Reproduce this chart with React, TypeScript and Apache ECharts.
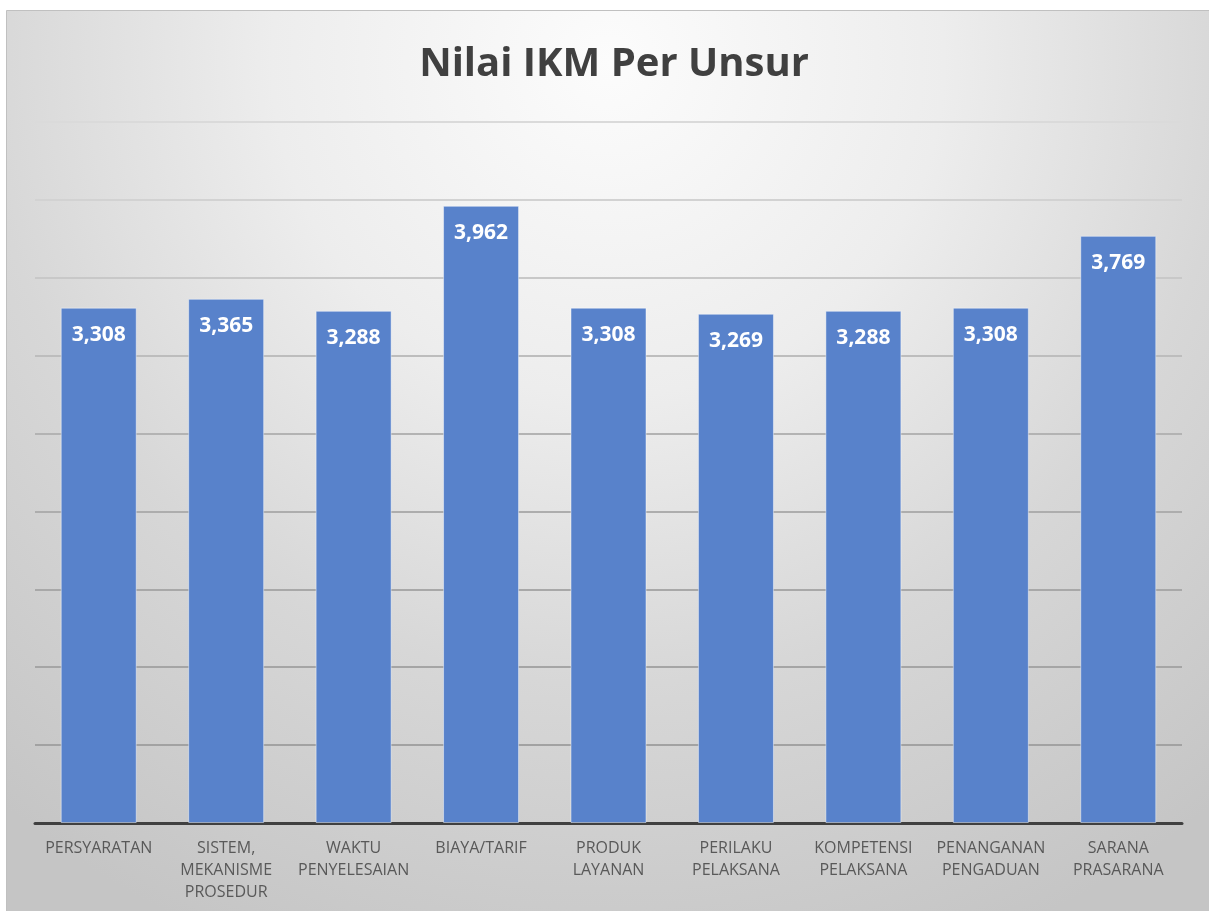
import React, { useEffect, useRef } from "react";
import * as echarts from "echarts";

const titleText = "Nilai IKM Per Unsur";
const categories = [
  "PERSYARATAN",
  "SISTEM,\nMEKANISME\nPROSEDUR",
  "WAKTU\nPENYELESAIAN",
  "BIAYA/TARIF",
  "PRODUK\nLAYANAN",
  "PERILAKU\nPELAKSANA",
  "KOMPETENSI\nPELAKSANA",
  "PENANGANAN\nPENGADUAN",
  "SARANA\nPRASARANA",
];
const values = [3.308, 3.365, 3.288, 3.962, 3.308, 3.269, 3.288, 3.308, 3.769];
const yMin = 0;
const yMax = 4.5;
const yInterval = 0.5;

export default function App() {
  const ref = useRef<HTMLDivElement>(null);
  useEffect(() => {
    if (!ref.current) return;
    const chart = echarts.init(ref.current, null, { renderer: "svg" });
    chart.setOption({
      animation: false,
      graphic: [
        {
          type: "rect",
          z: -10,
          silent: true,
          shape: { x: 6.5, y: 10.5, width: 1210, height: 910 },
          style: {
            fill: {
              type: "radial",
              x: 608,
              y: 60,
              r: 960,
              global: true,
              colorStops: [
                { offset: 0, color: "#fcfcfc" },
                { offset: 0.35, color: "#ededed" },
                { offset: 0.65, color: "#d7d7d7" },
                { offset: 1, color: "#c5c5c5" },
              ],
            },
            stroke: "#c0c0c0",
            lineWidth: 1,
          },
        },
      ],
      title: {
        text: titleText,
        left: 609,
        textAlign: "center",
        top: 35,
        textStyle: {
          fontFamily: "Open Sans",
          fontWeight: "bold",
          fontSize: 40,
          color: "#404040",
        },
      },
      grid: { left: 35, right: 27, top: 122, bottom: 88, containLabel: false },
      xAxis: {
        type: "category",
        data: categories,
        axisLine: { lineStyle: { color: "#404040", width: 3 } },
        axisTick: { show: false },
        axisLabel: {
          interval: 0,
          margin: 13,
          fontFamily: "Open Sans",
          fontSize: 16,
          lineHeight: 22,
          color: "#595959",
        },
      },
      yAxis: {
        type: "value",
        min: yMin,
        max: yMax,
        interval: yInterval,
        axisLabel: { show: false },
        axisLine: { show: false },
        axisTick: { show: false },
        splitLine: {
          lineStyle: {
            width: 2,
            color: [
              "#404040",
              "#a2a2a2",
              "#a5a5a5",
              "#a8a8a8",
              "#adadad",
              "#b3b3b3",
              "#bdbdbd",
              "#c8c8c8",
              "#d2d2d2",
              "#dadada",
            ],
          },
        },
      },
      series: [
        {
          type: "bar",
          data: values,
          barWidth: 76,
          itemStyle: {
            color: "#5882cb",
            borderColor: "rgba(255,255,255,0.45)",
            borderWidth: 1,
          },
          label: {
            show: true,
            position: "insideTop",
            distance: 15,
            fontFamily: "Open Sans",
            fontWeight: "bold",
            fontSize: 21,
            color: "#ffffff",
            formatter: (p: any) => p.value.toFixed(3).replace(".", ","),
          },
        },
      ],
    });
    return () => chart.dispose();
  }, []);
  return (
    <div
      ref={ref}
      style={{ position: "fixed", left: 0, top: 0, width: 1209, height: 911 }}
    />
  );
}
